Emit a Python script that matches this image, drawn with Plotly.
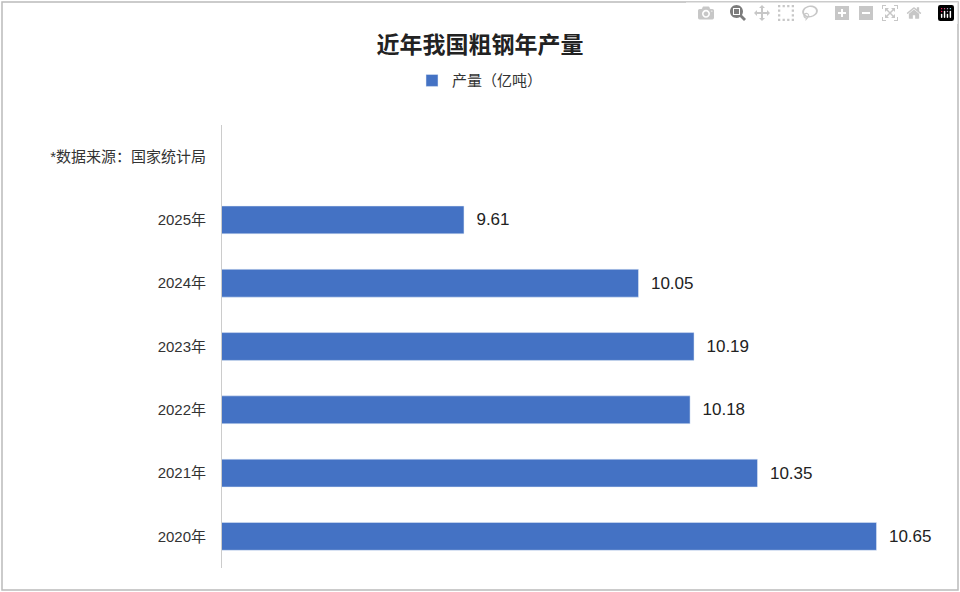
import plotly.graph_objects as go

categories = ['2020年', '2021年', '2022年', '2023年', '2024年', '2025年', '*数据来源：国家统计局']
values = [10.65, 10.35, 10.18, 10.19, 10.05, 9.61, None]
labels = ['  10.65', '  10.35', '  10.18', '  10.19', '  10.05', '  9.61', '']

W, H = 960, 592
L, R, T, B = 222, 24, 125, 24
pw, ph = W - L - R, H - T - B
FONT = 'Liberation Sans, Noto Sans CJK SC'

fig = go.Figure(go.Bar(
    y=categories, x=values, orientation='h',
    marker_color='#4472C4', width=0.44,
    text=labels, textposition='outside', cliponaxis=False,
    textfont=dict(size=17, color='#222', family=FONT),
    name='产量（亿吨）', showlegend=True
))

fig.update_layout(
    width=W, height=H,
    margin=dict(l=L, r=R, t=T, b=B),
    paper_bgcolor='white', plot_bgcolor='white',
    font=dict(family=FONT, color='#333'),
    title=dict(text='<b>近年我国粗钢年产量</b>', x=0.5, xref='container', y=0.937,
               xanchor='center', font=dict(size=23, color='#222', family='Noto Sans CJK SC')),
    legend=dict(orientation='h', x=(W / 2 - L) / pw, xanchor='center', y=1.1, yanchor='middle',
                font=dict(size=15, color='#333')),
    xaxis=dict(range=[9.0, 10.8], visible=False),
    yaxis=dict(categoryorder='array', categoryarray=categories,
               tickfont=dict(size=15, color='#333'), showline=True,
               linecolor='#ccc', linewidth=1, ticks='', ticklabelstandoff=12,
               showgrid=False),
    bargap=0.5,
)
fig.add_shape(type='rect', xref='paper', yref='paper',
              x0=-(L - 2) / pw, x1=1 + (R - 2) / pw,
              y0=-(B - 2) / ph, y1=1 + (T - 2) / ph,
              line=dict(color='#bbb', width=1.5))

fig.write_html('out.html', post_script="document.body.style.margin='0';")
